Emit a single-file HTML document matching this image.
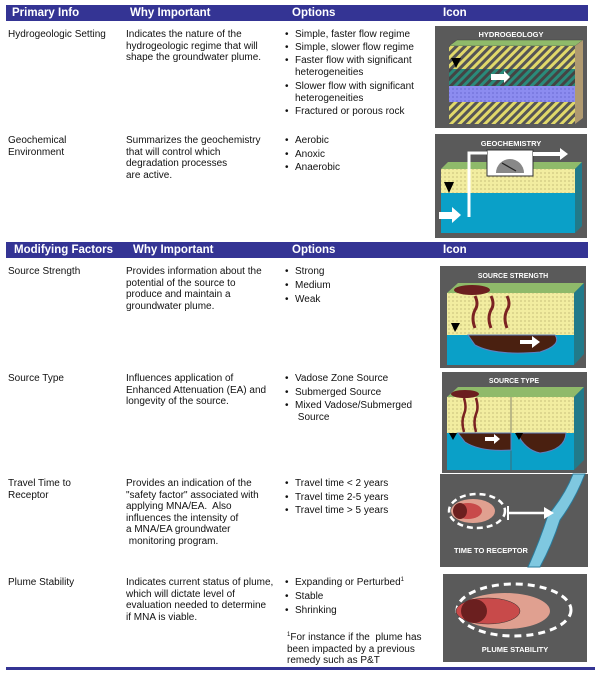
<!DOCTYPE html>
<html><head><meta charset="utf-8"><style>
body{margin:0;width:600px;height:677px;background:#fff;position:relative;overflow:hidden;font-family:"Liberation Sans",Arial,sans-serif;font-size:10px;color:#111;}
.t{position:absolute;line-height:11.5px;white-space:nowrap;}
.hb{position:absolute;left:6px;width:582px;height:16px;background:#343494;}
.h{position:absolute;color:#fff;font-weight:bold;font-size:11.5px;line-height:16px;}
.b{position:absolute;left:285px;line-height:11.5px;white-space:nowrap;}
.b::before{content:"•";position:absolute;left:0;}
.b span{margin-left:10px;display:block;}
sup{font-size:6px;line-height:0;vertical-align:4px;}
svg{position:absolute;}
</style></head><body>
<div class="hb" style="top:5px"></div>
<div class="h" style="left:12px;top:5px">Primary Info</div>
<div class="h" style="left:130px;top:5px">Why Important</div>
<div class="h" style="left:292px;top:5px">Options</div>
<div class="h" style="left:443px;top:5px">Icon</div>

<div class="t" style="left:8px;top:29px">Hydrogeologic Setting</div>
<div class="t" style="left:126px;top:29px">Indicates the nature of the<br>hydrogeologic regime that will<br>shape the groundwater plume.</div>
<div class="b" style="top:29px"><span>Simple, faster flow regime</span></div>
<div class="b" style="top:42px"><span>Simple, slower flow regime</span></div>
<div class="b" style="top:55px"><span>Faster flow with significant<br>heterogeneities</span></div>
<div class="b" style="top:81px"><span>Slower flow with significant<br>heterogeneities</span></div>
<div class="b" style="top:106px"><span>Fractured or porous rock</span></div>

<div class="t" style="left:8px;top:135px">Geochemical<br>Environment</div>
<div class="t" style="left:126px;top:135px">Summarizes the geochemistry<br>that will control which<br>degradation processes<br>are active.</div>
<div class="b" style="top:135px"><span>Aerobic</span></div>
<div class="b" style="top:149px"><span>Anoxic</span></div>
<div class="b" style="top:162px"><span>Anaerobic</span></div>

<div class="hb" style="top:242px"></div>
<div class="h" style="left:14px;top:242px">Modifying Factors</div>
<div class="h" style="left:133px;top:242px">Why Important</div>
<div class="h" style="left:292px;top:242px">Options</div>
<div class="h" style="left:443px;top:242px">Icon</div>

<div class="t" style="left:8px;top:266px">Source Strength</div>
<div class="t" style="left:126px;top:266px">Provides information about the<br>potential of the source to<br>produce and maintain a<br>groundwater plume.</div>
<div class="b" style="top:266px"><span>Strong</span></div>
<div class="b" style="top:280px"><span>Medium</span></div>
<div class="b" style="top:294px"><span>Weak</span></div>

<div class="t" style="left:8px;top:373px">Source Type</div>
<div class="t" style="left:126px;top:373px">Influences application of<br>Enhanced Attenuation (EA) and<br>longevity of the source.</div>
<div class="b" style="top:373px"><span>Vadose Zone Source</span></div>
<div class="b" style="top:387px"><span>Submerged Source</span></div>
<div class="b" style="top:400px"><span>Mixed Vadose/Submerged<br>&nbsp;Source</span></div>

<div class="t" style="left:8px;top:478px">Travel Time to<br>Receptor</div>
<div class="t" style="left:126px;top:478px">Provides an indication of the<br>"safety factor" associated with<br>applying MNA/EA.&nbsp; Also<br>influences the intensity of<br>a MNA/EA groundwater<br>&nbsp;monitoring program.</div>
<div class="b" style="top:478px"><span>Travel time &lt; 2 years</span></div>
<div class="b" style="top:492px"><span>Travel time 2-5 years</span></div>
<div class="b" style="top:505px"><span>Travel time &gt; 5 years</span></div>

<div class="t" style="left:8px;top:577px">Plume Stability</div>
<div class="t" style="left:126px;top:577px">Indicates current status of plume,<br>which will dictate level of<br>evaluation needed to determine<br>if MNA is viable.</div>
<div class="b" style="top:577px"><span>Expanding or Perturbed<sup>1</sup></span></div>
<div class="b" style="top:591px"><span>Stable</span></div>
<div class="b" style="top:605px"><span>Shrinking</span></div>
<div class="t" style="left:287px;top:632px"><sup>1</sup>For instance if the&nbsp; plume has<br>been impacted by a previous<br>remedy such as P&amp;T</div>

<div style="position:absolute;left:6px;top:667px;width:589px;height:3px;background:#343494"></div>

<svg width="600" height="677" viewBox="0 0 600 677" style="left:0;top:0">
<defs>
<pattern id="hatch" width="6" height="6" patternUnits="userSpaceOnUse" patternTransform="rotate(45)"><rect width="6" height="6" fill="#e0d86a"/><rect width="3" height="6" fill="#555"/></pattern>
<pattern id="hatch2" width="6" height="6" patternUnits="userSpaceOnUse" patternTransform="rotate(45)"><rect width="6" height="6" fill="#2a8a7a"/><rect width="3" height="6" fill="#444"/></pattern>
<pattern id="dots" width="4" height="4" patternUnits="userSpaceOnUse"><rect width="4" height="4" fill="#f2eda0"/><circle cx="1" cy="1" r="0.6" fill="#aaa060"/></pattern>
<pattern id="bdots" width="4" height="4" patternUnits="userSpaceOnUse"><rect width="4" height="4" fill="#8c8cf0"/><circle cx="1" cy="1" r="0.6" fill="#5555c0"/></pattern>
</defs>
<!-- hydrogeology -->
<rect x="435" y="26" width="152" height="102" fill="#5a5a5a"/>
<text x="511" y="37" fill="#fff" font-size="7.5" font-weight="bold" text-anchor="middle" font-family="Liberation Sans">HYDROGEOLOGY</text>
<polygon points="449,46 457,40 583,40 575,46" fill="#8fba6a" stroke="#444" stroke-width=".5"/>
<polygon points="575,46 583,40 583,118 575,124" fill="#b09a70"/>
<rect x="449" y="46" width="126" height="23" fill="url(#hatch)"/>
<rect x="449" y="69" width="126" height="17" fill="url(#hatch2)"/>
<rect x="449" y="86" width="126" height="16" fill="url(#bdots)"/>
<rect x="449" y="102" width="126" height="22" fill="url(#hatch)"/>
<polygon points="451,58 461,58 456,68" fill="#000"/>
<polygon points="491,74 504,74 504,71 510,77 504,83 504,80 491,80" fill="#fff"/>
<!-- geochemistry -->
<rect x="435" y="134" width="152" height="104" fill="#5a5a5a"/>
<text x="511" y="146" fill="#fff" font-size="7.5" font-weight="bold" text-anchor="middle" font-family="Liberation Sans">GEOCHEMISTRY</text>
<polygon points="441,169 448,162 582,162 575,169" fill="#8fba6a"/>
<rect x="441" y="169" width="134" height="24" fill="url(#dots)"/>
<rect x="441" y="193" width="134" height="40" fill="#0aa0c8"/>
<polygon points="575,169 582,162 582,226 575,233" fill="#217a8a"/>
<rect x="487" y="150" width="46" height="26" fill="#fff" stroke="#333"/>
<path d="M496,173 A14,14 0 0 1 524,173 Z" fill="#888"/>
<line x1="502" y1="163" x2="516" y2="171" stroke="#222" stroke-width="1.2"/>
<polyline points="469,217 469,153 487,153" fill="none" stroke="#fff" stroke-width="3"/>
<polygon points="533,152 560,152 560,148 568,154 560,160 560,156 533,156" fill="#fff"/>
<polygon points="439,212 452,212 452,207 461,215 452,223 452,219 439,219" fill="#fff"/>
<polygon points="444,182 454,182 449,193" fill="#000"/>
<!-- source strength -->
<rect x="440" y="266" width="146" height="102" fill="#5a5a5a"/>
<text x="513" y="278" fill="#fff" font-size="7" font-weight="bold" text-anchor="middle" font-family="Liberation Sans">SOURCE STRENGTH</text>
<polygon points="447,293 458,283 584,283 574,293" fill="#8fba6a"/>
<rect x="447" y="293" width="127" height="42" fill="url(#dots)"/>
<rect x="447" y="335" width="127" height="30" fill="#0aa0c8"/>
<polygon points="574,293 584,283 584,354 574,365" fill="#217a8a"/>
<ellipse cx="472" cy="290" rx="18" ry="5" fill="#6b1f1f"/>
<path d="M468,335 L555,335 Q562,345 540,352 Q495,356 475,345 Z" fill="#4a2010" stroke="#6080c0"/>
<g stroke="#7a2222" stroke-width="3" fill="none"><path d="M475,296 q4,8 0,14 q-4,8 0,18"/><path d="M491,296 q4,8 0,14 q-4,8 0,18"/><path d="M507,296 q4,8 0,14 q-4,8 0,18"/></g>
<polygon points="451,323 460,323 455,332" fill="#000"/>
<polygon points="520,340 532,340 532,336 540,342 532,348 532,344 520,344" fill="#fff"/>
<!-- source type -->
<rect x="442" y="372" width="145" height="101" fill="#5a5a5a"/>
<text x="514" y="383" fill="#fff" font-size="7" font-weight="bold" text-anchor="middle" font-family="Liberation Sans">SOURCE TYPE</text>
<polygon points="447,397 458,387 584,387 574,397" fill="#8fba6a"/>
<rect x="447" y="397" width="127" height="36" fill="url(#dots)"/>
<rect x="447" y="433" width="127" height="37" fill="#0aa0c8"/>
<polygon points="574,397 584,387 584,460 574,470" fill="#217a8a"/>
<line x1="511" y1="397" x2="511" y2="470" stroke="#555" stroke-width=".7"/>
<ellipse cx="465" cy="394" rx="14" ry="4" fill="#6b1f1f"/>
<path d="M458,433 L511,433 L511,450 Q480,452 465,442 Z" fill="#4a2010" stroke="#6080c0"/>
<path d="M517,433 L566,433 Q565,450 540,453 Q525,450 517,433 Z" fill="#4a2010" stroke="#6080c0"/>
<g stroke="#7a2222" stroke-width="2.5" fill="none"><path d="M464,398 q3,10 0,16 q-3,8 0,18"/><path d="M476,398 q3,10 0,16 q-3,8 0,18"/></g>
<polygon points="485,437 494,437 494,434 500,439 494,444 494,441 485,441" fill="#fff"/>
<polygon points="449,433 457,433 453,440" fill="#000"/>
<polygon points="515,433 523,433 519,440" fill="#000"/>
<!-- time to receptor -->
<rect x="440" y="474" width="148" height="93" fill="#5a5a5a"/>
<path d="M573,474 L585,474 Q575,500 560,520 Q552,545 540,567 L528,567 Q540,540 548,515 Q565,495 573,474 Z" fill="#7fc8e0" stroke="#2a7a9a"/>
<ellipse cx="477" cy="511" rx="28" ry="17" fill="none" stroke="#fff" stroke-width="2.5" stroke-dasharray="6,4"/>
<ellipse cx="473" cy="511" rx="22" ry="12" fill="#e0a090"/>
<ellipse cx="468" cy="511" rx="14" ry="8" fill="#c84a4a"/>
<ellipse cx="460" cy="511" rx="7" ry="8" fill="#6b1f1f"/>
<line x1="508" y1="513" x2="546" y2="513" stroke="#fff" stroke-width="2.5"/>
<line x1="508" y1="506" x2="508" y2="520" stroke="#fff" stroke-width="2"/>
<polygon points="544,507 554,513 544,519" fill="#fff"/>
<text x="491" y="553" fill="#fff" font-size="7.5" font-weight="bold" text-anchor="middle" font-family="Liberation Sans">TIME TO RECEPTOR</text>
<!-- plume stability -->
<rect x="443" y="574" width="144" height="88" fill="#5a5a5a"/>
<ellipse cx="514" cy="610" rx="57" ry="26" fill="none" stroke="#fff" stroke-width="3" stroke-dasharray="7,5"/>
<ellipse cx="505" cy="611" rx="45" ry="18" fill="#e0a090"/>
<ellipse cx="488" cy="611" rx="32" ry="13" fill="#c84a4a" stroke="#333" stroke-width=".5"/>
<ellipse cx="474" cy="611" rx="13" ry="12" fill="#6b1f1f"/>
<text x="515" y="652" fill="#fff" font-size="7.5" font-weight="bold" text-anchor="middle" font-family="Liberation Sans">PLUME STABILITY</text>
</svg>
</body></html>
